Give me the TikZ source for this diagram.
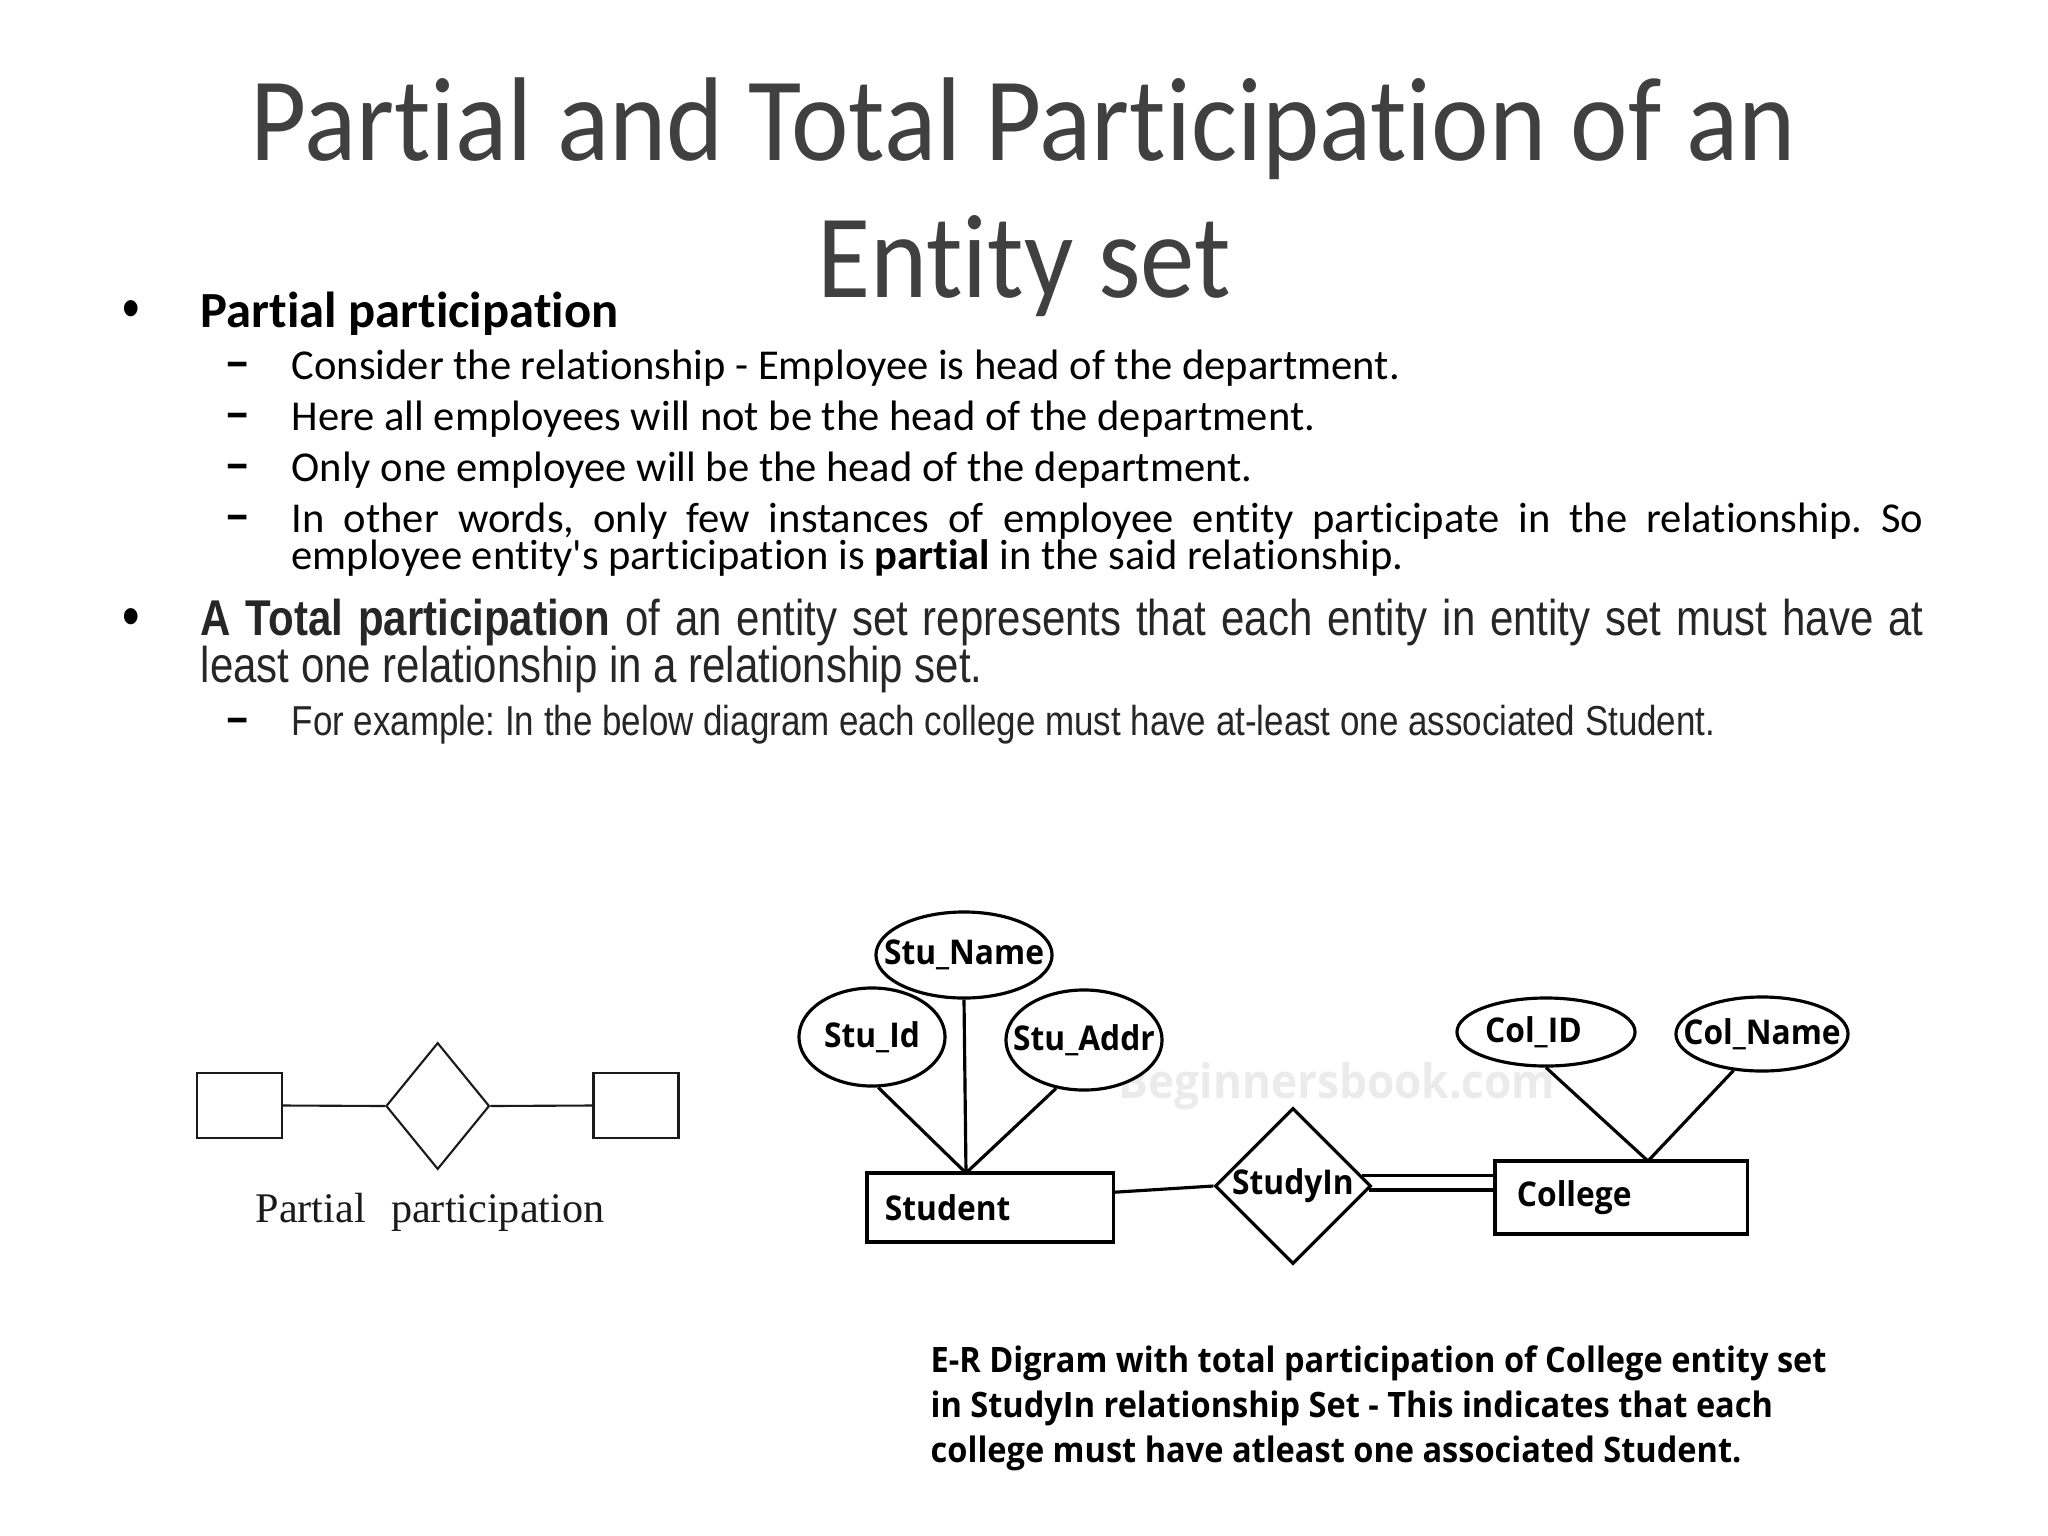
\documentclass[tikz,border=0pt]{standalone}
\usepackage{fontspec}
\setmainfont{Carlito}[Ligatures=CommonOff]
\newfontfamily\titlefont[FakeStretch=0.913,Ligatures=CommonOff]{Carlito}
\newfontfamily\narrowfont[FakeStretch=0.835]{Liberation Sans}
\newfontfamily\erfont[FakeStretch=0.93]{Open Sans}
\newfontfamily\serfont{Liberation Serif}
\usetikzlibrary{shapes.geometric}
\definecolor{titlegray}{HTML}{404040}
\definecolor{bodygray}{HTML}{262626}
\definecolor{wmgray}{HTML}{EBEBEB}
\definecolor{figblack}{HTML}{1A1A1A}
\tikzset{
  txt/.style={inner sep=0pt, anchor=base west},
  ttl/.style={inner sep=0pt, anchor=base, text=titlegray, font=\titlefont\fontsize{33.9}{40}\selectfont},
  sub/.style={txt, font=\fontsize{12.1}{15}\selectfont},
  dsh/.style={inner sep=0pt, anchor=base, font=\bfseries\fontsize{15}{15}\selectfont},
  bul/.style={inner sep=0pt, anchor=base, font=\narrowfont\fontsize{17}{17}\selectfont},
  narrowtxt/.style={txt, text=bodygray, font=\narrowfont\fontsize{14.3}{17}\selectfont},
  lent/.style={draw=figblack, line width=0.6pt, rectangle, minimum width=0.85cm, minimum height=0.65cm, inner sep=0pt},
  lrel/.style={draw=figblack, line width=0.6pt, diamond, minimum width=1.034cm, minimum height=1.266cm, inner sep=0pt},
  lconn/.style={draw=figblack, line width=0.6pt},
  ent/.style={draw, line width=0.9pt, rectangle, inner ysep=0pt, fill=white, align=left, font=\erfont\bfseries\fontsize{9.7}{11}\selectfont},
  attr/.style={draw, line width=0.9pt, ellipse, inner sep=0pt, fill=white, font=\erfont\bfseries\fontsize{9.7}{11}\selectfont},
  rel/.style={draw, line width=0.9pt, diamond, inner sep=0pt, fill=white, minimum width=1.56cm, minimum height=1.56cm, font=\erfont\bfseries\fontsize{9.7}{11}\selectfont},
  conn/.style={line width=0.9pt},
  captxt/.style={txt, font=\erfont\bfseries\fontsize{9.95}{11}\selectfont},
}
\frenchspacing
\begin{document}
\frenchspacing
\begin{tikzpicture}[x=0.01cm, y=-0.01cm]
\useasboundingbox (0,0) rectangle (2048,1536);
\fill[white] (0,0) rectangle (2048,1536);

% Title
\node[ttl] (t1) at (1023,160) {Partial and Total Participation of an};
\node[ttl] (t2) at (1024,297) {Entity set};

% Bullet 1
\node[bul] (b1) at (131,328) {•};
\node[txt, font=\bfseries\fontsize{14.4}{17}\selectfont] (pp) at (200,327) {Partial participation};
\node[dsh] (d1) at (238,379) {–};
\node[sub] (s1) at (291,379) {Consider the relationship - Employee is head of the department.};
\node[dsh] (d2) at (238,430) {–};
\node[sub] (s2) at (291,430) {Here all employees will not be the head of the department.};
\node[dsh] (d3) at (238,481) {–};
\node[sub] (s3) at (291,481) {Only one employee will be the head of the department.};
\node[dsh] (d4) at (238,532) {–};
\node[sub] (s4) at (291,532) {\makebox[16.31cm][s]{In other words, only few instances of employee entity participate in the relationship. So}};
\node[sub] (s5) at (291,569) {employee entity\textquotesingle s participation is \textbf{partial} in the said relationship.};

% Bullet 2
\node[bul] (b2) at (131,636) {•};
\node[narrowtxt] (tp1) at (200,635) {\makebox[17.22cm][s]{\textbf{A Total participation} of an entity set represents that each entity in entity set must have at}};
\node[narrowtxt] (tp2) at (200,682) {least one relationship in a relationship set.};
\node[dsh] (d5) at (238,735) {–};
\node[txt, text=bodygray, font=\narrowfont\fontsize{11.9}{14}\selectfont] (ex) at (291,735) {For example: In the below diagram each college must have at-least one associated Student.};

% Left diagram: partial participation
\node[lent] (le1) at (239.2,1105.5) {};
\node[lrel] (lr) at (437.7,1106) {};
\node[lent] (le2) at (636,1105.5) {};
\draw[lconn] (le1.east) -- (lr.west);
\draw[lconn] (lr.east) -- (le2.west);
\node[inner sep=0pt, anchor=base, text=figblack, font=\serfont\fontsize{12}{14}\selectfont] (lcap) at (430,1222) {Partial\hspace{0.6em}participation};

% Watermark
\node[inner sep=0pt, text=wmgray, font=\erfont\bfseries\fontsize{13.5}{16}\selectfont] (wm) at (1337,1086) {Beginnersbook.com};

% Right diagram: total participation
\node[ent, minimum width=2.46cm, minimum height=0.69cm, text width=2.10cm, inner xsep=0.18cm] (stu) at (990,1207.5) {Student};
\node[attr, minimum width=1.76cm, minimum height=0.86cm] (sname) at (964,955) {\makebox[0pt]{Stu\_Name}};
\node[attr, minimum width=1.46cm, minimum height=0.98cm] (sid) at (872,1037) {\makebox[0pt]{Stu\_Id}};
\node[attr, minimum width=1.56cm, minimum height=1.00cm] (sadr) at (1084,1040) {\makebox[0pt]{Stu\_Addr}};
\node[rel] (sty) at (1293,1186) {\makebox[0pt]{StudyIn}};
\node[ent, minimum width=2.52cm, minimum height=0.73cm, text width=2.08cm, inner xsep=0.22cm] (col) at (1621,1197.5) {\raisebox{-0.05cm}{College}};
\node[attr, minimum width=1.78cm, minimum height=0.68cm] (cid) at (1546,1032) {\makebox[0pt]{\hspace{-0.25cm}Col\_ID}};
\node[attr, minimum width=1.72cm, minimum height=0.74cm] (cname) at (1762,1034) {\makebox[0pt]{Col\_Name}};

\coordinate (sj) at (966,1173);
\coordinate (cj) at (1648,1161);
\draw[conn] (sid.-83) -- (sj);
\draw[conn] (sname.south) -- (sj);
\draw[conn] (sadr.-120) -- (sj);
\draw[conn] (cid.south) -- (cj);
\draw[conn] (cname.-128) -- (cj);
\draw[conn] (stu.7.6) -- (sty.west);
\draw[conn] (sty.9.3) -- (sty.9.3 -| col.west);
\draw[conn] (sty.-3.9) -- (sty.-3.9 -| col.west);

% Caption
\node[captxt] (c1) at (930,1372) {E-R Digram with total participation of College entity set};
\node[captxt] (c2) at (930,1417) {in StudyIn relationship Set - This indicates that each};
\node[captxt] (c3) at (930,1462) {college must have atleast one associated Student.};
\end{tikzpicture}
\end{document}
